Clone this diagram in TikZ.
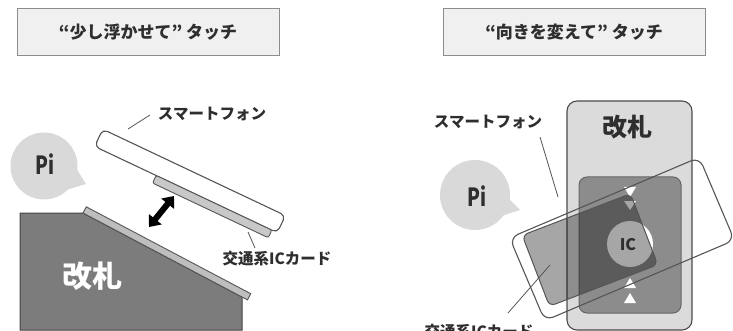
\documentclass[tikz,border=0pt]{standalone}
\usepackage{fontspec}
\newfontfamily\jp{Noto Sans CJK JP}
\usetikzlibrary{arrows.meta}
\definecolor{ink}{HTML}{2E2E2E}
\definecolor{edge}{HTML}{555555}
\definecolor{boxfill}{HTML}{F0F0F0}
\definecolor{boxline}{HTML}{8C8C8C}
\definecolor{bubblefill}{HTML}{D9D9D9}
\definecolor{gatedark}{HTML}{7C7C7C}
\definecolor{gatelight}{HTML}{DBDBDB}
\definecolor{readerfill}{HTML}{8C8C8C}
\definecolor{platefill}{HTML}{BEBEBE}
\definecolor{cardfill}{HTML}{C8C8C8}
\newcommand{\jpfont}[1]{\jp\bfseries\fontsize{#1}{#1}\selectfont}
\tikzset{
  titlebox/.style={draw=boxline, fill=boxfill, line width=1pt, minimum width=262pt,
    minimum height=47pt, inner sep=0pt, text=ink, font=\jpfont{17}},
  bubble/.style={circle, fill=bubblefill, minimum size=67pt, inner sep=0pt},
  pitext/.style={text=ink, font=\jpfont{25}, inner sep=0pt},
  caption/.style={text=ink, font=\jpfont{15.5}, inner sep=0pt},
  leader/.style={draw=edge, line width=0.8pt},
  phonebody/.style={draw=edge, line width=1.1pt, inner sep=0pt, rounded corners=5pt},
  chipcard/.style={draw=edge, line width=0.9pt, inner sep=0pt, rounded corners=2pt, fill=cardfill},
  guidemark/.style={fill=white},
}
\begin{document}
\begin{tikzpicture}[x=1pt,y=-1pt]
\clip (0,0) rectangle (733,331);

% ---------- left: hovering touch ----------
\node[titlebox] (titleL) at (148,32.5) {“少し浮かせて” タッチ};

% speech bubble
\fill[bubblefill] (76,168) -- (86,184) -- (66,190) -- cycle;
\node[bubble] (bubbleL) at (44,166) {};
\node[pitext] (piL) at (45,164) {\scalebox{0.75}[1]{Pi}};

% ticket gate, side view
\draw[fill=gatedark, draw=edge!80!black, line width=1pt]
  (20,213) -- (83,213) -- (242,297) -- (242,330) -- (20,330) -- cycle;
\node[text=white, font=\jpfont{30}, inner sep=0pt] (gateL) at (92,276) {改札};
\begin{scope}[shift={(83,213)}, rotate=-27.85]
  \draw[fill=platefill, draw=edge, line width=0.9pt] (0,-7) rectangle (186,0);
\end{scope}

% smartphone held above the reader, with the card on its back
\node[phonebody, fill=white, rotate=-25.3, minimum width=202pt, minimum height=19pt]
  (phoneL) at (190,181) {};
\node[chipcard, rotate=-25.3, minimum width=128pt, minimum height=8.4pt]
  (cardL) at (212.2,206.6) {};

% gap arrow
\coordinate (gapLo) at (149,227);
\coordinate (gapHi) at (174,196);
\draw[line width=6pt, {Triangle[width=16pt,length=10pt]}-{Triangle[width=16pt,length=10pt]}]
  (gapLo) -- (gapHi);

% labels
\node[caption] (phoneLabelL) at (212,114) {スマートフォン};
\coordinate (phoneTipL) at (128,129);
\draw[leader] (phoneTipL) -- (150,115);
\node[caption] (cardLabelL) at (277,259) {交通系ICカード};
\coordinate (cardTipL) at (248,232);
\draw[leader] (cardTipL) -- (255,248);

% ---------- right: rotated touch ----------
\node[titlebox] (titleR) at (574,32.5) {“向きを変えて” タッチ};

% speech bubble
\fill[bubblefill] (507,197) -- (520,210) -- (498,217) -- cycle;
\node[bubble, minimum size=70pt] (bubbleR) at (475,195) {};
\node[pitext] (piR) at (477,196) {\scalebox{0.75}[1]{Pi}};

% ticket gate, top view
\draw[fill=gatelight, draw=edge!90!black, line width=1.1pt, rounded corners=10pt]
  (567,101) rectangle (692,330);
\node[text=ink, font=\jpfont{25}, inner sep=0pt] (gateR) at (627,127) {改札};
\draw[fill=readerfill, draw=edge!90!white, line width=1pt, rounded corners=8pt]
  (579,177) rectangle (681,313);
% guide marks and reader spot
\fill[guidemark] (624,187) -- (636,187) -- (630,197) -- cycle;
\fill[guidemark] (624,201) -- (636,201) -- (630,210) -- cycle;
\fill[guidemark] (624,288) -- (636,288) -- (630,278) -- cycle;
\fill[guidemark] (624,303) -- (636,303) -- (630,293) -- cycle;
\node[circle, fill=white, minimum size=46pt, inner sep=0pt] (spot) at (630,244) {};

% card laid on the reader
\node[draw=edge, line width=1pt, fill=black, fill opacity=0.35, draw opacity=1,
  rounded corners=6pt, rotate=21, minimum width=116pt, minimum height=76pt, inner sep=0pt]
  (cardR) at (590,250) {};
\node[text=ink, font=\jpfont{16}, inner sep=0pt] (icR) at (628,245) {IC};

% smartphone outline
\node[phonebody, rounded corners=9pt, rotate=23, minimum width=206pt, minimum height=90pt]
  (phoneR) at (622,239) {};

% labels
\node[caption] (phoneLabelR) at (488,122) {スマートフォン};
\coordinate (phoneTipR) at (558,197);
\draw[leader] (540,137) -- (phoneTipR);
\node[caption] (cardLabelR) at (479,332) {交通系ICカード};
\coordinate (cardTipR) at (550,265);
\draw[leader] (508,313) -- (cardTipR);
\end{tikzpicture}
\end{document}
